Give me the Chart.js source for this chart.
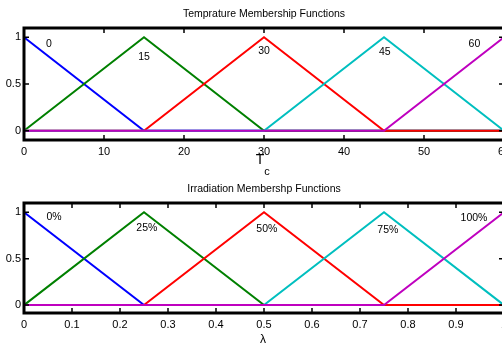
<!DOCTYPE html>
<html>
<head>
<meta charset="utf-8">
<script src="https://cdn.jsdelivr.net/npm/chart.js@4.4.1/dist/chart.umd.min.js"></script>
<style>
  html, body { margin: 0; padding: 0; background: #fff; overflow: hidden; }
  #wrap { position: relative; width: 502px; height: 345px; overflow: hidden; }
  canvas { position: absolute; left: 0; }
  #tempChart { top: 0; }
  #irrChart { top: 172px; }
</style>
</head>
<body>
<div id="wrap">
  <canvas id="tempChart" width="506" height="180"></canvas>
  <canvas id="irrChart" width="506" height="173"></canvas>
</div>
<script>
// membership function breakpoints and values
var seriesColors = ["#0000ff", "#008000", "#ff0000", "#00bfbf", "#bf00bf"]
var seriesShapes = [
  [1, 0, 0, 0, 0],
  [0, 1, 0, 0, 0],
  [0, 0, 1, 0, 0],
  [0, 0, 0, 1, 0],
  [0, 0, 0, 0, 1]
]
var tempX = [0, 15, 30, 45, 60]
var tempTicks = [0, 10, 20, 30, 40, 50, 60]
var tempNames = ["0", "15", "30", "45", "60"]
var tempNameX = [3.1, 15, 30, 45.1, 56.3]
var tempNameY = [0.93, 0.79, 0.85, 0.84, 0.93]

var irrX = [0, 0.25, 0.5, 0.75, 1]
var irrTicks = [0, 0.1, 0.2, 0.3, 0.4, 0.5, 0.6, 0.7, 0.8, 0.9, 1]
var irrNames = ["0%", "25%", "50%", "75%", "100%"]
var irrNameX = [0.0625, 0.256, 0.506, 0.758, 0.9375]
var irrNameY = [0.946, 0.83, 0.82, 0.81, 0.935]

var yTicks = [0, 0.5, 1]

var FONT = "'Liberation Sans', Arial, sans-serif"

// black box with inward ticks on all four sides
var framePlugin = {
  id: "frame",
  afterDraw: function (chart) {
    var ctx = chart.ctx
    var a = chart.chartArea
    var xs = chart.scales.x, ys = chart.scales.y
    ctx.save()
    ctx.strokeStyle = "#000"
    ctx.lineWidth = 1.5
    xs.ticks.forEach(function (t) {
      var px = xs.getPixelForValue(t.value)
      ctx.beginPath()
      ctx.moveTo(px, a.top); ctx.lineTo(px, a.top + 5)
      ctx.moveTo(px, a.bottom); ctx.lineTo(px, a.bottom - 5)
      ctx.stroke()
    })
    ys.ticks.forEach(function (t) {
      var py = ys.getPixelForValue(t.value)
      ctx.beginPath()
      ctx.moveTo(a.left, py); ctx.lineTo(a.left + 5, py)
      ctx.moveTo(a.right, py); ctx.lineTo(a.right - 5, py)
      ctx.stroke()
    })
    ctx.lineWidth = 3
    ctx.strokeRect(a.left, a.top, a.right - a.left, a.bottom - a.top)
    ctx.restore()
  }
}

// titles, axis label and the name of each curve
var textPlugin = {
  id: "texts",
  afterDraw: function (chart, args, o) {
    var ctx = chart.ctx
    var a = chart.chartArea
    var xs = chart.scales.x, ys = chart.scales.y
    var cx = (a.left + a.right) / 2
    ctx.save()
    ctx.fillStyle = "#000"
    ctx.textAlign = "center"
    ctx.textBaseline = "middle"
    ctx.font = "10.5px " + FONT
    ctx.fillText(o.title, cx, a.top - 14)
    o.names.forEach(function (n, i) {
      ctx.fillText(n, xs.getPixelForValue(o.nameX[i]), ys.getPixelForValue(o.nameY[i]))
    })
    ctx.font = o.axisSize + "px " + FONT
    ctx.fillText(o.axis, o.axisX, a.bottom + o.axisDy)
    if (o.sub) {
      ctx.font = "11px " + FONT
      ctx.fillText(o.sub, o.axisX + 7, a.bottom + o.axisDy + 12)
    }
    ctx.restore()
  }
}

function makeChart(id, xs, xTicks, xMin, xMax, yMin, top, xHeight, tickFmt, texts) {
  var datasets = seriesShapes.map(function (ys, i) {
    return {
      data: xs.map(function (x, j) { return { x: x, y: ys[j] } }),
      borderColor: seriesColors[i],
      borderWidth: 2,
      pointRadius: 0,
      fill: false,
      tension: 0,
      order: seriesShapes.length - 1 - i
    }
  })
  return new Chart(document.getElementById(id).getContext("2d"), {
    type: "line",
    data: { datasets: datasets },
    options: {
      responsive: false,
      animation: false,
      layout: { padding: { top: top, right: 2, left: 0, bottom: 0 } },
      plugins: { legend: { display: false }, tooltip: { enabled: false }, texts: texts },
      scales: {
        x: {
          type: "linear",
          min: xMin,
          max: xMax,
          grid: { display: false, drawTicks: false },
          border: { display: false },
          afterBuildTicks: function (s) { s.ticks = xTicks.map(function (v) { return { value: v } }) },
          afterFit: function (s) { s.height = xHeight; s.paddingLeft = 0; s.paddingRight = 0 },
          ticks: {
            color: "#000",
            padding: 5,
            maxRotation: 0,
            autoSkip: false,
            font: { family: FONT, size: 11 },
            callback: tickFmt
          }
        },
        y: {
          min: yMin,
          max: 1.1,
          grid: { display: false, drawTicks: false },
          border: { display: false },
          afterBuildTicks: function (s) { s.ticks = yTicks.map(function (v) { return { value: v } }) },
          afterFit: function (s) { s.width = 24; s.paddingTop = 0; s.paddingBottom = 0 },
          ticks: {
            color: "#000",
            padding: 3,
            font: { family: FONT, size: 11 },
            callback: function (v) { return String(v) }
          }
        }
      }
    },
    plugins: [framePlugin, textPlugin]
  })
}

makeChart("tempChart", tempX, tempTicks, 0, 60, -0.1, 28, 40,
  function (v) { return String(v) },
  { title: "Temprature Membership Functions", names: tempNames, nameX: tempNameX, nameY: tempNameY,
    axis: "T", axisSize: 14, axisX: 260, axisDy: 20, sub: "c" })

makeChart("irrChart", irrX, irrTicks, 0, 1, -0.085, 31, 32,
  function (v) { return String(Math.round(v * 10) / 10) },
  { title: "Irradiation Membershp Functions", names: irrNames, nameX: irrNameX, nameY: irrNameY,
    axis: "\u03bb", axisSize: 12, axisX: 263, axisDy: 27, sub: "" })
</script>
</body>
</html>
